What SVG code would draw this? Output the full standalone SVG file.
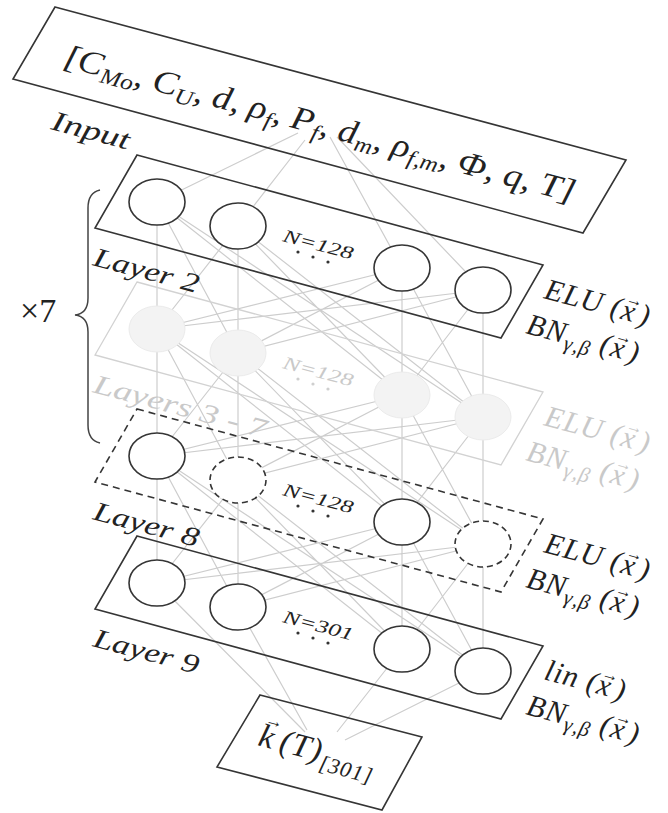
<svg xmlns="http://www.w3.org/2000/svg" width="668" height="813" viewBox="0 0 668 813">
<style>
.box{fill:none;stroke:#353535;stroke-width:1.6}
.gbox{fill:none;stroke:#d2d2d2;stroke-width:1.3}
.dbox{fill:none;stroke:#353535;stroke-width:1.6;stroke-dasharray:7 5}
.node{fill:#fff;stroke:#353535;stroke-width:1.6}
.gnode{fill:#f3f3f3;stroke:#ebebeb;stroke-width:1}
.dnode{fill:#fff;stroke:#353535;stroke-width:1.6;stroke-dasharray:6 4}
.conn{fill:none;stroke:#cdcdcd;stroke-width:1.2}
.t{font-family:"Liberation Serif","DejaVu Serif",serif;font-style:italic;fill:#222}
.lab{font-size:30px;letter-spacing:1px}
.g{fill:#c9c9c9}
.dot{fill:#333}
.gdot{fill:#cfcfcf}
</style>
<defs>
<path id="p_in" d="M62,66l676,181"/>
<path id="p_input" d="M50,129l676,181"/>
<path id="p_l2" d="M92,265l676,181"/>
<path id="p_l3" d="M92,392l676,181"/>
<path id="p_l8" d="M92,519l676,181"/>
<path id="p_l9" d="M92,646l676,181"/>
<path id="p_n2" d="M282,241l676,181"/>
<path id="p_n3" d="M282,368l676,181"/>
<path id="p_n8" d="M282,495l676,181"/>
<path id="p_n9" d="M282,622l676,181"/>
<path id="p_e2" d="M543,298l676,181"/>
<path id="p_e3" d="M543,425l676,181"/>
<path id="p_e8" d="M543,552l676,181"/>
<path id="p_e9" d="M543,679l676,181"/>
<path id="p_b2" d="M525,333l676,181"/>
<path id="p_b3" d="M525,460l676,181"/>
<path id="p_b8" d="M525,587l676,181"/>
<path id="p_b9" d="M525,714l676,181"/>
<path id="p_out" d="M257,745l676,181"/>
</defs>
<g id="connectors" class="conn">
<path d="M298,133L157,202M305,140L238,226M330,137L402,268M337,137L483,290"/>
<path d="M157,202L157,329M157,202L238,353M157,202L402,395M157,202L483,417M238,226L157,329M238,226L238,353M238,226L402,395M238,226L483,417M402,268L157,329M402,268L238,353M402,268L402,395M402,268L483,417M483,290L157,329M483,290L238,353M483,290L402,395M483,290L483,417"/>
<path d="M157,329L157,456M157,329L238,480M157,329L402,522M157,329L483,544M238,353L157,456M238,353L238,480M238,353L402,522M238,353L483,544M402,395L157,456M402,395L238,480M402,395L402,522M402,395L483,544M483,417L157,456M483,417L238,480M483,417L402,522M483,417L483,544"/>
<path d="M157,456L157,583M157,456L238,607M157,456L402,649M157,456L483,671M238,480L157,583M238,480L238,607M238,480L402,649M238,480L483,671M402,522L157,583M402,522L238,607M402,522L402,649M402,522L483,671M483,544L157,583M483,544L238,607M483,544L402,649M483,544L483,671"/>
<path d="M157,583L305,732M238,607L307,730M402,649L337,732M483,671L345,740"/>
</g>
<g id="input">
<path class="box" d="M55,7L626,160L583,233L13,79Z"/>
<text class="t" font-size="33"><textPath href="#p_in" textLength="528" lengthAdjust="spacingAndGlyphs">[C<tspan font-size="22" dy="6">Mo</tspan><tspan dy="-6">, C</tspan><tspan font-size="22" dy="6">U</tspan><tspan dy="-6">, d, ρ</tspan><tspan font-size="22" dy="6">f</tspan><tspan dy="-6">, P</tspan><tspan font-size="22" dy="6">f</tspan><tspan dy="-6">, d</tspan><tspan font-size="22" dy="6">m</tspan><tspan dy="-6">, ρ</tspan><tspan font-size="22" dy="6">f,m</tspan><tspan dy="-6">, Φ, q, T]</tspan></textPath></text>
<text class="t" font-size="28"><textPath href="#p_input" textLength="80" lengthAdjust="spacingAndGlyphs">Input</textPath></text>
</g>
<g id="layer2">
<path class="box" d="M137,155L543,265L501,338L95,228Z"/>
<text class="t" font-size="27"><textPath href="#p_l2" textLength="108" lengthAdjust="spacingAndGlyphs">Layer 2</textPath></text>
<text class="t" font-size="18"><textPath href="#p_n2" textLength="72" lengthAdjust="spacingAndGlyphs">N=128</textPath></text>
<circle class="dot" cx="298" cy="252" r="1.6"/><circle class="dot" cx="313" cy="257" r="1.6"/><circle class="dot" cx="328" cy="262" r="1.6"/>
<text class="t lab"><textPath href="#p_e2">ELU (x<tspan font-size="17" dx="-13" dy="-16">→</tspan><tspan dx="-1" dy="16">)</tspan></textPath></text>
<text class="t lab"><textPath href="#p_b2">BN<tspan font-size="21" dy="6">γ,β</tspan><tspan dy="-6"> (x</tspan><tspan font-size="17" dx="-13" dy="-16">→</tspan><tspan dx="-1" dy="16">)</tspan></textPath></text>
</g>
<g id="layers3to7">
<path class="gbox" d="M137,282L543,392L501,465L95,355Z"/>
<text class="t g" font-size="27"><textPath href="#p_l3" textLength="178" lengthAdjust="spacingAndGlyphs">Layers 3 - 7</textPath></text>
<text class="t g" font-size="18"><textPath href="#p_n3" textLength="72" lengthAdjust="spacingAndGlyphs">N=128</textPath></text>
<circle class="gdot" cx="298" cy="379" r="1.6"/><circle class="gdot" cx="313" cy="384" r="1.6"/><circle class="gdot" cx="328" cy="389" r="1.6"/>
<text class="t g lab"><textPath href="#p_e3">ELU (x<tspan font-size="17" dx="-13" dy="-16">→</tspan><tspan dx="-1" dy="16">)</tspan></textPath></text>
<text class="t g lab"><textPath href="#p_b3">BN<tspan font-size="21" dy="6">γ,β</tspan><tspan dy="-6"> (x</tspan><tspan font-size="17" dx="-13" dy="-16">→</tspan><tspan dx="-1" dy="16">)</tspan></textPath></text>
</g>
<g id="layer8">
<path class="dbox" d="M137,409L543,519L501,592L95,482Z"/>
<text class="t" font-size="27"><textPath href="#p_l8" textLength="108" lengthAdjust="spacingAndGlyphs">Layer 8</textPath></text>
<text class="t" font-size="18"><textPath href="#p_n8" textLength="72" lengthAdjust="spacingAndGlyphs">N=128</textPath></text>
<circle class="dot" cx="298" cy="506" r="1.6"/><circle class="dot" cx="313" cy="511" r="1.6"/><circle class="dot" cx="328" cy="516" r="1.6"/>
<text class="t lab"><textPath href="#p_e8">ELU (x<tspan font-size="17" dx="-13" dy="-16">→</tspan><tspan dx="-1" dy="16">)</tspan></textPath></text>
<text class="t lab"><textPath href="#p_b8">BN<tspan font-size="21" dy="6">γ,β</tspan><tspan dy="-6"> (x</tspan><tspan font-size="17" dx="-13" dy="-16">→</tspan><tspan dx="-1" dy="16">)</tspan></textPath></text>
</g>
<g id="layer9">
<path class="box" d="M137,536L543,646L501,719L95,609Z"/>
<text class="t" font-size="27"><textPath href="#p_l9" textLength="108" lengthAdjust="spacingAndGlyphs">Layer 9</textPath></text>
<text class="t" font-size="18"><textPath href="#p_n9" textLength="72" lengthAdjust="spacingAndGlyphs">N=301</textPath></text>
<circle class="dot" cx="298" cy="633" r="1.6"/><circle class="dot" cx="313" cy="638" r="1.6"/><circle class="dot" cx="328" cy="643" r="1.6"/>
<text class="t lab"><textPath href="#p_e9">lin (x<tspan font-size="17" dx="-13" dy="-16">→</tspan><tspan dx="-1" dy="16">)</tspan></textPath></text>
<text class="t lab"><textPath href="#p_b9">BN<tspan font-size="21" dy="6">γ,β</tspan><tspan dy="-6"> (x</tspan><tspan font-size="17" dx="-13" dy="-16">→</tspan><tspan dx="-1" dy="16">)</tspan></textPath></text>
</g>
<g id="output">
<path class="box" d="M260,695L422,737L382,810L217,767Z"/>
<text class="t" font-size="33" letter-spacing="1"><textPath href="#p_out">k<tspan font-size="18" dx="-14" dy="-22">→</tspan><tspan dx="1" dy="22">(T)</tspan><tspan font-size="22" dy="8">[301]</tspan></textPath></text>
</g>
<g id="repeat">
<path d="M100,190C91,192 88,198 88,208L88,298C88,308 84,314 75,315C84,316 88,322 88,332L88,425C88,435 91,441 100,443" fill="none" stroke="#444" stroke-width="1.5"/>
<text x="20" y="322" font-size="34" font-family="Liberation Serif, DejaVu Serif, serif" fill="#222">×7</text>
</g>
<g id="l2n1"><ellipse class="node" cx="157" cy="202" rx="28" ry="23"/></g>
<g id="l2n2"><ellipse class="node" cx="238" cy="226" rx="28" ry="23"/></g>
<g id="l2n3"><ellipse class="node" cx="402" cy="268" rx="28" ry="23"/></g>
<g id="l2n4"><ellipse class="node" cx="483" cy="290" rx="28" ry="23"/></g>
<g id="l3n1"><ellipse class="gnode" cx="157" cy="329" rx="28" ry="23"/></g>
<g id="l3n2"><ellipse class="gnode" cx="238" cy="353" rx="28" ry="23"/></g>
<g id="l3n3"><ellipse class="gnode" cx="402" cy="395" rx="28" ry="23"/></g>
<g id="l3n4"><ellipse class="gnode" cx="483" cy="417" rx="28" ry="23"/></g>
<g id="l8n1"><ellipse class="node" cx="157" cy="456" rx="28" ry="23"/></g>
<g id="l8n2"><ellipse class="dnode" cx="238" cy="480" rx="28" ry="23"/></g>
<g id="l8n3"><ellipse class="node" cx="402" cy="522" rx="28" ry="23"/></g>
<g id="l8n4"><ellipse class="dnode" cx="483" cy="544" rx="28" ry="23"/></g>
<g id="l9n1"><ellipse class="node" cx="157" cy="583" rx="28" ry="23"/></g>
<g id="l9n2"><ellipse class="node" cx="238" cy="607" rx="28" ry="23"/></g>
<g id="l9n3"><ellipse class="node" cx="402" cy="649" rx="28" ry="23"/></g>
<g id="l9n4"><ellipse class="node" cx="483" cy="671" rx="28" ry="23"/></g>
</svg>
